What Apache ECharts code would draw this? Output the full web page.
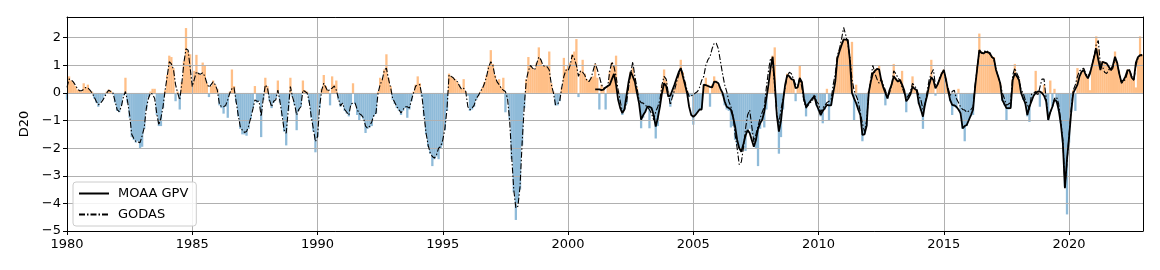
<!DOCTYPE html>
<html>
<head>
<meta charset="utf-8">
<script src="https://cdn.jsdelivr.net/npm/echarts@6/dist/echarts.min.js"></script>
<style>
html,body{margin:0;padding:0;background:#fff;}
#chart{width:1160px;height:270px;}
</style>
</head>
<body>
<div id="chart"></div>
<script>
// ---- data (monthly, starting January of the given year) ----
const START_YEAR = 1980;
const MOAA_START_YEAR = 2001;
const xTicks = [1980, 1985, 1990, 1995, 2000, 2005, 2010, 2015, 2020];
const yTicks = [-5, -4, -3, -2, -1, 0, 1, 2];

// monthly bars (D20 anomaly)
const bars = [
 -0.25,0.6,0.45,0.38,0.25,0.12,0.1,0.05,0.35,0.2,0.3,0.1,
 0.05,-0.2,-0.35,-0.5,-0.35,-0.25,-0.1,0.05,0.12,0.08,-0.05,-0.35,
 -0.65,-0.7,-0.45,-0.1,0.55,-0.35,-0.9,-1.6,-1.7,-1.8,-1.75,-2.0,
 -1.95,-1.3,-0.6,-0.15,0.05,0.15,0.15,-0.8,-1.2,-1.2,-0.55,0.1,
 0.65,1.35,1.3,0.9,-0.3,0.05,-0.6,0.4,1.15,2.35,1.5,1.4,
 0.3,0.8,1.38,0.7,0.65,1.1,1.0,0.35,-0.15,0.25,0.45,0.3,
 0.15,-0.45,-0.55,-0.75,-0.5,-0.9,0.05,0.85,0.25,-0.35,-0.85,-1.3,
 -1.5,-1.5,-1.55,-1.3,-0.95,-0.55,0.25,-0.35,-0.3,-1.6,-0.25,0.55,
 0.25,-0.3,-0.55,-0.35,-0.2,0.45,-0.35,-0.85,-1.4,-1.9,-0.65,0.55,
 -0.15,-0.45,-1.35,-0.65,-0.5,0.45,0.1,0.05,-0.35,-0.9,-1.4,-2.15,
 -1.6,-0.55,0.15,0.65,0.25,0.1,-0.45,0.6,0.3,0.45,-0.25,-0.5,
 -0.4,-0.65,-0.75,-0.85,-0.45,0.35,-0.4,-0.8,-1.0,-0.85,-0.95,-1.45,
 -1.3,-1.25,-1.2,-0.85,-0.75,0.05,0.55,0.5,0.85,1.4,0.55,0.25,
 -0.25,-0.4,-0.55,-0.65,-0.8,-0.65,-0.55,-0.9,-0.6,-0.3,0.05,0.3,
 0.6,0.35,-0.15,-0.85,-1.5,-1.95,-2.2,-2.65,-2.4,-2.3,-2.4,-2.0,
 -1.9,-1.35,-0.65,0.7,0.6,0.55,0.5,0.4,0.3,0.15,0.5,0.05,
 -0.1,-0.65,-0.6,-0.5,-0.25,-0.1,0.05,0.2,0.4,0.65,1.0,1.55,
 1.05,0.65,0.45,0.5,0.2,0.55,-0.7,-0.2,-1.0,-2.4,-3.6,-4.6,
 -4.0,-3.5,-1.9,-0.55,0.5,1.3,1.0,0.9,0.85,1.1,1.65,1.2,
 1.0,1.0,0.95,1.5,0.35,0.05,-0.45,-0.45,-0.3,0.2,1.27,0.85,
 1.0,1.1,1.4,1.5,1.95,-0.15,0.8,1.2,0.7,0.5,0.45,0.55,
 0.6,1.05,0.55,-0.6,0.3,0.2,-0.6,0.25,0.8,1.1,0.95,1.35,
 0.1,-0.35,-0.8,-0.6,-0.4,0.2,0.75,0.9,0.55,0.2,-0.3,-1.28,
 -0.9,-0.7,-0.55,-1.28,-0.6,-0.85,-1.65,-1.2,-0.5,0.3,0.85,0.45,
 0.05,-0.5,-0.15,0.15,0.45,0.7,1.2,0.75,0.4,0.1,-0.15,-0.1,
 -1.15,-0.8,-0.7,-0.6,-0.55,0.3,0.55,0.3,-0.5,0.3,0.6,0.45,
 0.3,0.1,-0.1,-0.45,-0.6,-0.65,-1.25,-1.2,-1.7,-1.9,-2.0,-2.1,
 -2.0,-2.1,-1.45,-1.3,-1.5,-1.75,-2.0,-2.65,-1.3,-1.0,-1.25,-0.6,
 0.2,0.8,1.35,1.65,-0.5,-2.2,-1.6,-0.6,0.15,0.7,0.6,0.5,
 0.5,-0.3,0.25,1.0,0.4,-0.25,-0.85,-0.45,-0.3,-0.2,-0.15,-0.45,
 -0.65,-0.85,-1.1,-0.6,0.15,-1.0,-0.45,0.05,0.45,1.3,1.55,1.8,
 1.95,1.95,1.9,1.2,1.85,-1.0,0.3,-0.6,-0.8,-1.75,-1.5,-1.2,
 0.05,0.45,0.75,0.85,0.9,1.0,0.5,0.2,-0.45,-0.2,0.1,0.35,
 1.05,0.55,0.45,0.5,0.8,0.1,-0.7,-0.2,-0.05,0.6,0.15,0.1,
 -0.4,-0.65,-1.3,-0.45,-0.1,0.35,1.2,0.5,-0.1,0.3,0.55,0.75,
 0.85,0.55,0.1,-0.3,-0.8,-0.5,-0.55,0.15,-0.75,-1.3,-1.75,-1.2,
 -1.0,-0.85,-0.8,0.25,1.0,2.15,1.5,1.45,1.5,1.5,1.45,1.35,
 1.3,0.85,0.6,0.35,-0.3,-0.45,-1.0,-0.6,-0.5,0.5,1.05,0.6,
 0.5,0.05,-0.25,-0.4,-0.85,-1.05,-0.3,-0.1,0.8,0.05,-0.5,0.05,
 0.3,-0.3,-1.0,0.45,-0.5,0.15,-0.35,-0.65,-1.1,-1.8,-3.4,-4.4,
 -1.8,-0.7,0.1,-0.65,0.9,0.6,0.8,0.85,0.65,0.55,0.1,1.0,
 1.35,2.05,1.6,0.85,1.15,1.1,1.05,0.95,0.85,1.0,1.5,1.1,
 0.75,0.45,0.45,0.6,0.85,0.8,0.55,0.5,0.2,1.3,2.05,1.4
];

// GODAS (dash-dot line), from 1980
const godas = [
 0.2,0.5,0.48,0.4,0.28,0.15,0.08,0.08,0.13,0.2,0.18,0.1,
 0.0,-0.15,-0.3,-0.43,-0.38,-0.28,-0.15,0.0,0.1,0.05,0.0,-0.3,
 -0.6,-0.68,-0.5,-0.15,0.05,-0.3,-0.8,-1.5,-1.65,-1.76,-1.78,-1.8,
 -1.55,-1.25,-0.55,-0.2,0.0,-0.05,-0.2,-0.75,-1.16,-0.9,-0.5,0.1,
 0.6,1.13,1.05,0.85,0.3,0.0,-0.25,0.35,1.1,1.6,1.55,0.9,
 0.23,0.5,0.77,0.7,0.68,0.73,0.6,0.35,0.2,0.3,0.4,0.3,
 0.1,-0.4,-0.5,-0.5,-0.45,-0.25,0.0,0.15,0.2,-0.3,-0.8,-1.22,
 -1.35,-1.43,-1.4,-1.2,-0.9,-0.6,-0.25,-0.3,-0.3,-0.85,-0.2,0.29,
 0.2,-0.25,-0.5,-0.3,-0.25,0.1,-0.3,-0.8,-1.34,-1.46,-0.6,0.23,
 -0.13,-0.4,-0.8,-0.6,-0.5,0.1,0.05,0.0,-0.3,-0.86,-1.3,-1.76,
 -1.58,-0.5,0.1,0.35,0.2,0.05,0.15,0.17,0.25,0.1,-0.2,-0.47,
 -0.37,-0.6,-0.7,-0.8,-0.4,-0.37,-0.37,-0.6,-0.75,-0.8,-0.9,-1.2,
 -1.28,-1.2,-1.04,-0.8,-0.73,0.0,0.3,0.47,0.83,0.9,0.5,0.2,
 -0.2,-0.35,-0.5,-0.6,-0.73,-0.6,-0.5,-0.5,-0.55,-0.25,0.0,0.25,
 0.28,0.3,-0.1,-0.8,-1.46,-1.9,-2.18,-2.3,-2.36,-2.24,-2.0,-1.94,
 -1.7,-1.3,-0.6,0.65,0.6,0.55,0.45,0.41,0.25,0.13,0.17,0.05,
 -0.5,-0.61,-0.55,-0.45,-0.2,-0.1,0.05,0.17,0.35,0.6,0.95,1.13,
 1.0,0.6,0.4,0.3,0.17,0.1,0.05,-0.2,-0.97,-2.3,-3.5,-4.17,
 -4.1,-3.39,-1.82,-0.5,0.47,0.8,1.0,0.9,0.83,1.07,1.3,1.2,
 1.0,0.95,0.95,0.83,0.3,0.0,-0.43,-0.4,-0.3,0.2,0.6,0.83,
 0.8,1.0,1.37,1.25,1.0,0.6,0.8,0.75,0.65,0.45,0.41,0.53,
 0.8,1.07,0.85,0.6,0.3,0.17,0.2,0.23,0.8,1.13,0.95,0.6,
 0.1,-0.3,-0.68,-0.6,-0.37,0.2,0.7,1.13,0.6,0.2,-0.25,-0.35,
 -0.37,-0.45,-0.5,-0.61,-0.75,-0.97,-0.68,-0.5,-0.25,0.3,0.6,0.5,
 0.0,-0.43,-0.13,0.1,0.4,0.65,0.9,0.7,0.4,0.1,-0.13,-0.1,
 -0.07,0.0,0.05,0.2,0.45,0.6,1.0,1.2,1.31,1.6,1.8,1.8,
 1.6,1.14,0.7,0.3,0.05,-0.3,-0.5,-0.8,-1.5,-2.0,-2.6,-2.5,
 -2.0,-1.3,-0.8,-0.62,-1.2,-1.77,-1.5,-1.2,-0.92,-0.7,-0.5,0.2,
 0.8,1.26,1.1,0.2,-0.8,-1.1,-0.6,-0.2,0.2,0.6,0.75,0.7,
 0.5,0.3,0.25,0.55,0.2,-0.3,-0.55,-0.45,-0.35,-0.3,-0.05,-0.3,
 -0.4,-0.7,-0.55,-0.45,-0.35,-0.3,-0.25,0.3,0.7,1.35,1.6,1.95,
 2.37,2.1,1.8,1.3,0.5,0.1,-0.1,-0.3,-0.7,-1.1,-1.4,-1.0,
 -0.05,0.5,1.0,0.7,0.5,0.35,0.5,0.3,0.1,-0.15,0.0,0.3,
 0.8,0.7,0.55,0.45,0.2,0.0,-0.2,-0.1,0.05,0.35,0.25,0.15,
 -0.1,-0.25,-0.6,-0.4,0.05,0.5,0.7,0.85,0.25,0.3,0.55,0.7,
 0.8,0.45,0.2,-0.1,0.05,0.1,-0.2,-0.35,-0.5,-0.6,-0.62,-0.7,
 -0.65,-0.6,-0.5,0.3,0.9,1.5,1.45,1.45,1.55,1.5,1.4,1.3,
 1.2,0.85,0.6,0.35,0.0,-0.2,-0.45,-0.4,-0.35,0.65,0.9,0.7,
 0.55,0.1,0.0,-0.25,-0.4,-0.6,-0.05,0.0,0.05,-0.1,0.2,0.5,
 0.5,-0.2,-0.9,-0.7,-0.5,-0.2,-0.15,-0.4,-1.0,-1.7,-3.4,-2.5,
 -1.5,-0.6,0.1,0.3,0.6,0.8,0.85,0.9,0.7,0.6,0.75,1.0,
 1.35,1.75,1.9,1.0,0.95,0.75,0.7,0.85,0.8,0.9,1.25,1.05,
 0.75,0.35,0.4,0.5,0.75,0.85,0.6,0.45,1.0,1.25,1.35,1.35
];

// MOAA GPV (solid line), from 2001
const moaa = [
 null,0.13,0.13,0.13,0.1,0.12,0.2,0.25,0.3,0.5,0.69,0.3,
 -0.25,-0.55,-0.73,-0.6,-0.1,0.4,0.77,0.6,0.41,0.0,-0.37,-0.97,
 -0.8,-0.68,-0.5,-0.5,-0.55,-0.8,-1.22,-0.9,-0.5,0.0,0.35,0.25,
 -0.13,-0.1,0.1,0.3,0.53,0.75,0.9,0.6,0.3,0.0,-0.5,-0.8,
 -0.86,-0.8,-0.7,-0.6,-0.6,0.3,0.28,0.25,0.22,0.2,0.41,0.4,
 0.35,0.15,0.0,-0.3,-0.5,-0.55,-0.6,-0.86,-1.2,-1.7,-2.0,-2.13,
 -1.85,-1.55,-1.34,-1.45,-1.7,-1.95,-1.7,-1.3,-1.1,-0.97,-0.68,-0.2,
 0.3,0.9,1.31,0.4,-0.8,-1.4,-1.0,-0.3,0.3,0.65,0.6,0.5,
 0.47,0.17,0.2,0.53,0.4,-0.2,-0.5,-0.4,-0.3,-0.2,-0.13,-0.43,
 -0.6,-0.8,-0.65,-0.55,-0.43,-0.45,-0.45,0.0,0.41,1.25,1.5,1.73,
 1.94,1.93,1.92,1.19,0.0,-0.2,-0.37,-0.6,-0.8,-1.52,-1.5,-1.2,
 0.0,0.4,0.71,0.8,0.87,0.85,0.47,0.2,0.0,-0.2,0.1,0.3,
 0.6,0.5,0.41,0.47,0.3,0.1,-0.3,-0.2,-0.05,0.23,0.15,0.1,
 -0.37,-0.6,-0.86,-0.4,-0.1,0.3,0.57,0.47,0.17,0.3,0.5,0.7,
 0.83,0.5,0.1,-0.25,-0.43,-0.45,-0.5,-0.6,-0.73,-1.28,-1.2,-1.16,
 -0.98,-0.8,-0.6,0.23,0.9,1.55,1.45,1.43,1.49,1.47,1.45,1.3,
 1.25,0.83,0.6,0.35,-0.25,-0.4,-0.55,-0.55,-0.55,0.47,0.71,0.6,
 0.47,0.0,-0.2,-0.37,-0.8,-0.5,-0.3,-0.1,0.0,0.05,0.05,0.0,
 -0.1,-0.3,-0.98,-0.7,-0.5,-0.25,-0.3,-0.6,-1.1,-1.8,-3.45,-2.4,
 -1.6,-0.7,0.0,0.15,0.3,0.6,0.77,0.83,0.65,0.53,0.7,1.0,
 1.31,1.61,1.2,0.83,1.13,1.1,1.07,0.95,0.83,1.0,1.31,1.1,
 0.7,0.41,0.45,0.6,0.83,0.8,0.55,0.47,1.1,1.3,1.37,1.38
];

const ORANGE = '#ffbf87';
const BLUE = '#8fbbd9';
const FONT = 'DejaVu Sans';
const GRID_COLOR = '#b0b0b0';

function toPairs(arr, startYear) {
  return arr.map((v, i) => [startYear + i / 12, v]);
}
function fmtNum(v) {
  return v < 0 ? '\u2212' + Math.abs(v) : String(v);
}

const X_MIN = xTicks[0], X_MAX = 2022.95, Y_MIN = yTicks[0], Y_MAX = 2.75;

const chart = echarts.init(document.getElementById('chart'), null, {renderer: 'canvas'});
chart.setOption({
  animation: false,
  textStyle: {fontFamily: FONT},
  grid: {left: 67, right: 17, top: 17, bottom: 39},
  xAxis: [{
    type: 'value', min: X_MIN, max: X_MAX, interval: 5, z: 1,
    axisLine: {show: true, onZero: false, lineStyle: {color: '#000', width: 1}},
    axisTick: {show: true, length: 4, lineStyle: {color: '#000'}},
    axisLabel: {fontSize: 13, color: '#000', fontFamily: FONT, margin: 7, showMaxLabel: false,
      formatter: v => xTicks.indexOf(v) >= 0 ? String(v) : ''},
    splitLine: {show: true, lineStyle: {color: GRID_COLOR, width: 1, type: 'solid'}}
  }, {
    type: 'value', position: 'top', min: X_MIN, max: X_MAX, interval: 5, z: 1,
    axisLine: {show: true, onZero: false, lineStyle: {color: '#000', width: 1}},
    axisTick: {show: false}, axisLabel: {show: false}, splitLine: {show: false}
  }],
  yAxis: [{
    type: 'value', min: Y_MIN, max: Y_MAX, interval: 1, z: 1,
    name: 'D20', nameLocation: 'middle', nameGap: 31,
    nameTextStyle: {fontSize: 13, color: '#000', fontFamily: FONT},
    axisLine: {show: true, onZero: false, lineStyle: {color: '#000', width: 1}},
    axisTick: {show: true, length: 4, lineStyle: {color: '#000'}},
    axisLabel: {fontSize: 13, color: '#000', fontFamily: FONT, margin: 6, showMaxLabel: false,
      formatter: v => yTicks.indexOf(v) >= 0 ? fmtNum(v) : ''},
    splitLine: {show: true, lineStyle: {color: GRID_COLOR, width: 1, type: 'solid'}}
  }, {
    type: 'value', position: 'right', min: Y_MIN, max: Y_MAX, interval: 1, z: 1,
    axisLine: {show: true, onZero: false, lineStyle: {color: '#000', width: 1}},
    axisTick: {show: false}, axisLabel: {show: false}, splitLine: {show: false}
  }],
  legend: {
    orient: 'vertical', left: 73, top: 182,
    data: ['MOAA GPV', 'GODAS'],
    itemWidth: 30, itemHeight: 12, itemGap: 8,
    padding: [5, 8, 5, 5],
    borderColor: '#cccccc', borderWidth: 1, borderRadius: 3,
    backgroundColor: 'rgba(255,255,255,0.85)',
    itemStyle: {opacity: 0},
    textStyle: {fontSize: 13, color: '#000', fontFamily: FONT, padding: [0, 0, 0, 4]}
  },
  series: [
    {
      type: 'bar', name: 'D20 bars', z: 0,
      data: toPairs(bars, START_YEAR),
      barWidth: 2.3,
      itemStyle: {color: p => (p.value[1] >= 0 ? ORANGE : BLUE)}
    },
    {
      type: 'line', name: 'MOAA GPV', z: 3,
      data: toPairs(moaa, MOAA_START_YEAR),
      symbol: 'none', showSymbol: false, connectNulls: false,
      itemStyle: {color: '#000'},
      lineStyle: {color: '#000', width: 1.8}
    },
    {
      type: 'line', name: 'GODAS', z: 4,
      data: toPairs(godas, START_YEAR),
      symbol: 'none', showSymbol: false,
      itemStyle: {color: '#000'},
      lineStyle: {color: '#000', width: 1.1, type: [6, 2, 1.5, 2]}
    }
  ]
});
</script>
</body>
</html>
